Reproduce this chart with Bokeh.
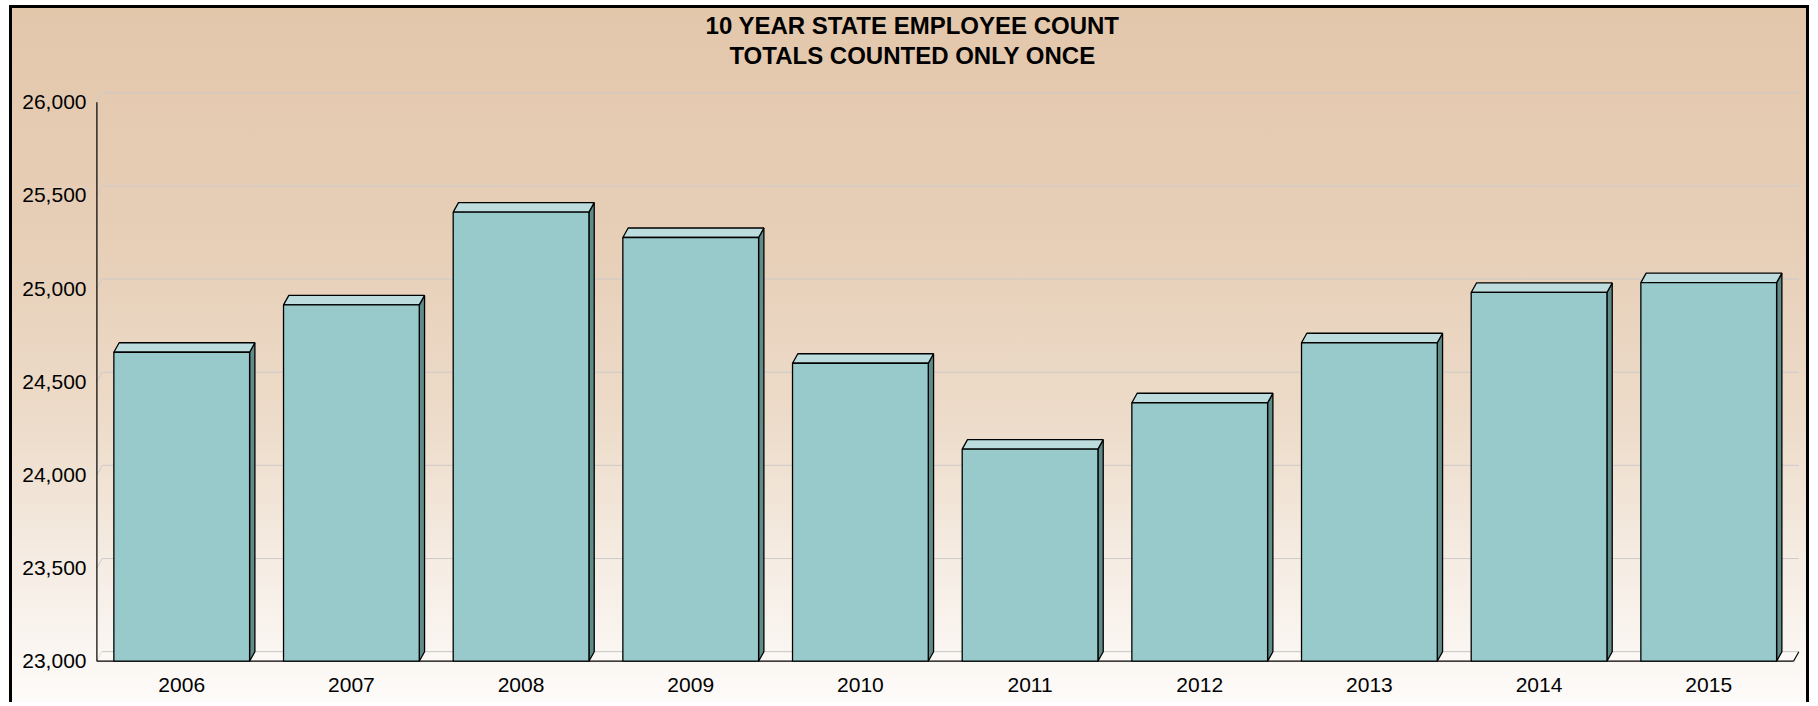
from bokeh.plotting import figure
from bokeh.models import Range1d, FixedTicker, NumeralTickFormatter
from bokeh.core.properties import value
from bokeh.embed import file_html
from bokeh.resources import INLINE

# ---- data ----
years = ["2006", "2007", "2008", "2009", "2010", "2011", "2012", "2013", "2014", "2015"]
employees = [24658, 24912, 25410, 25274, 24599, 24138, 24387, 24709, 24979, 25032]
y_ticks = [23000, 23500, 24000, 24500, 25000, 25500, 26000]
title_lines = ["10 YEAR STATE EMPLOYEE COUNT", "TOTALS COUNTED ONLY ONCE"]

# ---- layout constants (pixels) ----
W, H = 1800, 697
MB_L, MB_R, MB_T, MB_B = 81, 13, 0, 42
FRAME_W = W - MB_L - MB_R
FRAME_H = H - MB_T - MB_B
BASE = 23000
BASE_LIFT_PX = 2.3          # baseline sits slightly above the frame bottom
PX_Y = 0.18633              # pixels per employee
X0, X1 = -0.52, 9.535
PX_X = FRAME_W / (X1 - X0)
Y0 = BASE - BASE_LIFT_PX / PX_Y
Y1 = Y0 + FRAME_H / PX_Y
DX = 5.3 / PX_X             # 3-D depth offsets
DY = 9.5 / PX_Y
BW = 0.8
FONT = "Liberation Sans"
TITLE_CX_PX = 900           # title centre, canvas pixels
TITLE_CY_PX = [17, 46.8]

p = figure(width=W, height=H, output_backend="svg", toolbar_location=None,
           x_range=Range1d(X0, X1), y_range=Range1d(Y0, Y1),
           min_border_left=MB_L, min_border_right=MB_R,
           min_border_top=MB_T, min_border_bottom=MB_B)
p.border_fill_color = None
p.background_fill_color = None
p.outline_line_color = None
p.grid.visible = False
p.styles = {
    "margin-left": "9px",
    "margin-top": "5px",
    "background": "linear-gradient(to bottom, #e3c7ab 0%, #e7cfb8 35%, #eddcca 60%, #f5ece3 80%, #fdfbf9 100%)",
    "border-top": "3px solid black",
    "border-left": "3px solid black",
    "border-right": "3px solid black",
}

n = len(years)
xs = list(range(n))
first, last = -0.5, n - 0.5
GRID = "#cdcaca"

# title (two centred lines)
p.text(x=[X0 + (TITLE_CX_PX - MB_L) / PX_X] * 2,
       y=[Y0 + (MB_T + FRAME_H - cy) / PX_Y for cy in TITLE_CY_PX],
       text=title_lines, text_font=value(FONT), text_font_size="24px",
       text_font_style="bold", text_color="black",
       text_align="center", text_baseline="middle")

# back wall gridlines and left-wall slants
p.segment(x0=[first + DX] * len(y_ticks), y0=[t + DY for t in y_ticks],
          x1=[last + DX] * len(y_ticks), y1=[t + DY for t in y_ticks],
          line_color=GRID, line_width=1)
p.segment(x0=[first] * len(y_ticks), y0=y_ticks,
          x1=[first + DX] * len(y_ticks), y1=[t + DY for t in y_ticks],
          line_color=GRID, line_width=1)

# floor
p.patch(x=[first, last, last + DX, first + DX], y=[BASE, BASE, BASE + DY, BASE + DY],
        fill_color="#fbf8f5", line_color=None)
p.segment(x0=[first + DX], y0=[BASE + DY], x1=[last + DX], y1=[BASE + DY],
          line_color=GRID, line_width=1)
p.segment(x0=[first], y0=[BASE], x1=[last], y1=[BASE], line_color="black", line_width=1.2)
p.segment(x0=[last], y0=[BASE], x1=[last + DX], y1=[BASE + DY], line_color="black", line_width=1.2)
# y axis line
p.segment(x0=[first], y0=[BASE], x1=[first], y1=[y_ticks[-1]], line_color="black", line_width=1.2)

# bars: side faces, top faces, front faces
side_xs = [[x + BW / 2, x + BW / 2, x + BW / 2 + DX, x + BW / 2 + DX] for x in xs]
side_ys = [[BASE, v, v + DY, BASE + DY] for v in employees]
p.patches(xs=side_xs, ys=side_ys, fill_color="#5f8b89", line_color="black", line_width=1.3)
top_xs = [[x - BW / 2, x + BW / 2, x + BW / 2 + DX, x - BW / 2 + DX] for x in xs]
top_ys = [[v, v, v + DY, v + DY] for v in employees]
p.patches(xs=top_xs, ys=top_ys, fill_color="#bcdcdd", line_color="black", line_width=1.3)
p.vbar(x=xs, top=employees, bottom=BASE, width=BW,
       fill_color="#99cacb", line_color="black", line_width=1.3)

# axes
p.yaxis.ticker = FixedTicker(ticks=y_ticks)
p.yaxis.formatter = NumeralTickFormatter(format="0,0")
p.xaxis.ticker = FixedTicker(ticks=xs)
p.xaxis.major_label_overrides = {i: y for i, y in enumerate(years)}
for ax in (p.xaxis[0], p.yaxis[0]):
    ax.axis_line_color = None
    ax.major_tick_line_color = None
    ax.minor_tick_line_color = None
    ax.major_tick_out = 0
    ax.major_tick_in = 0
    ax.minor_tick_out = 0
    ax.minor_tick_in = 0
    ax.major_label_text_font = FONT
    ax.major_label_text_color = "black"
p.yaxis.major_label_text_font_size = "21px"
p.yaxis.major_label_standoff = 7
p.xaxis.major_label_text_font_size = "21px"
p.xaxis.major_label_standoff = 14

open("out.html", "w").write(file_html(p, INLINE))
